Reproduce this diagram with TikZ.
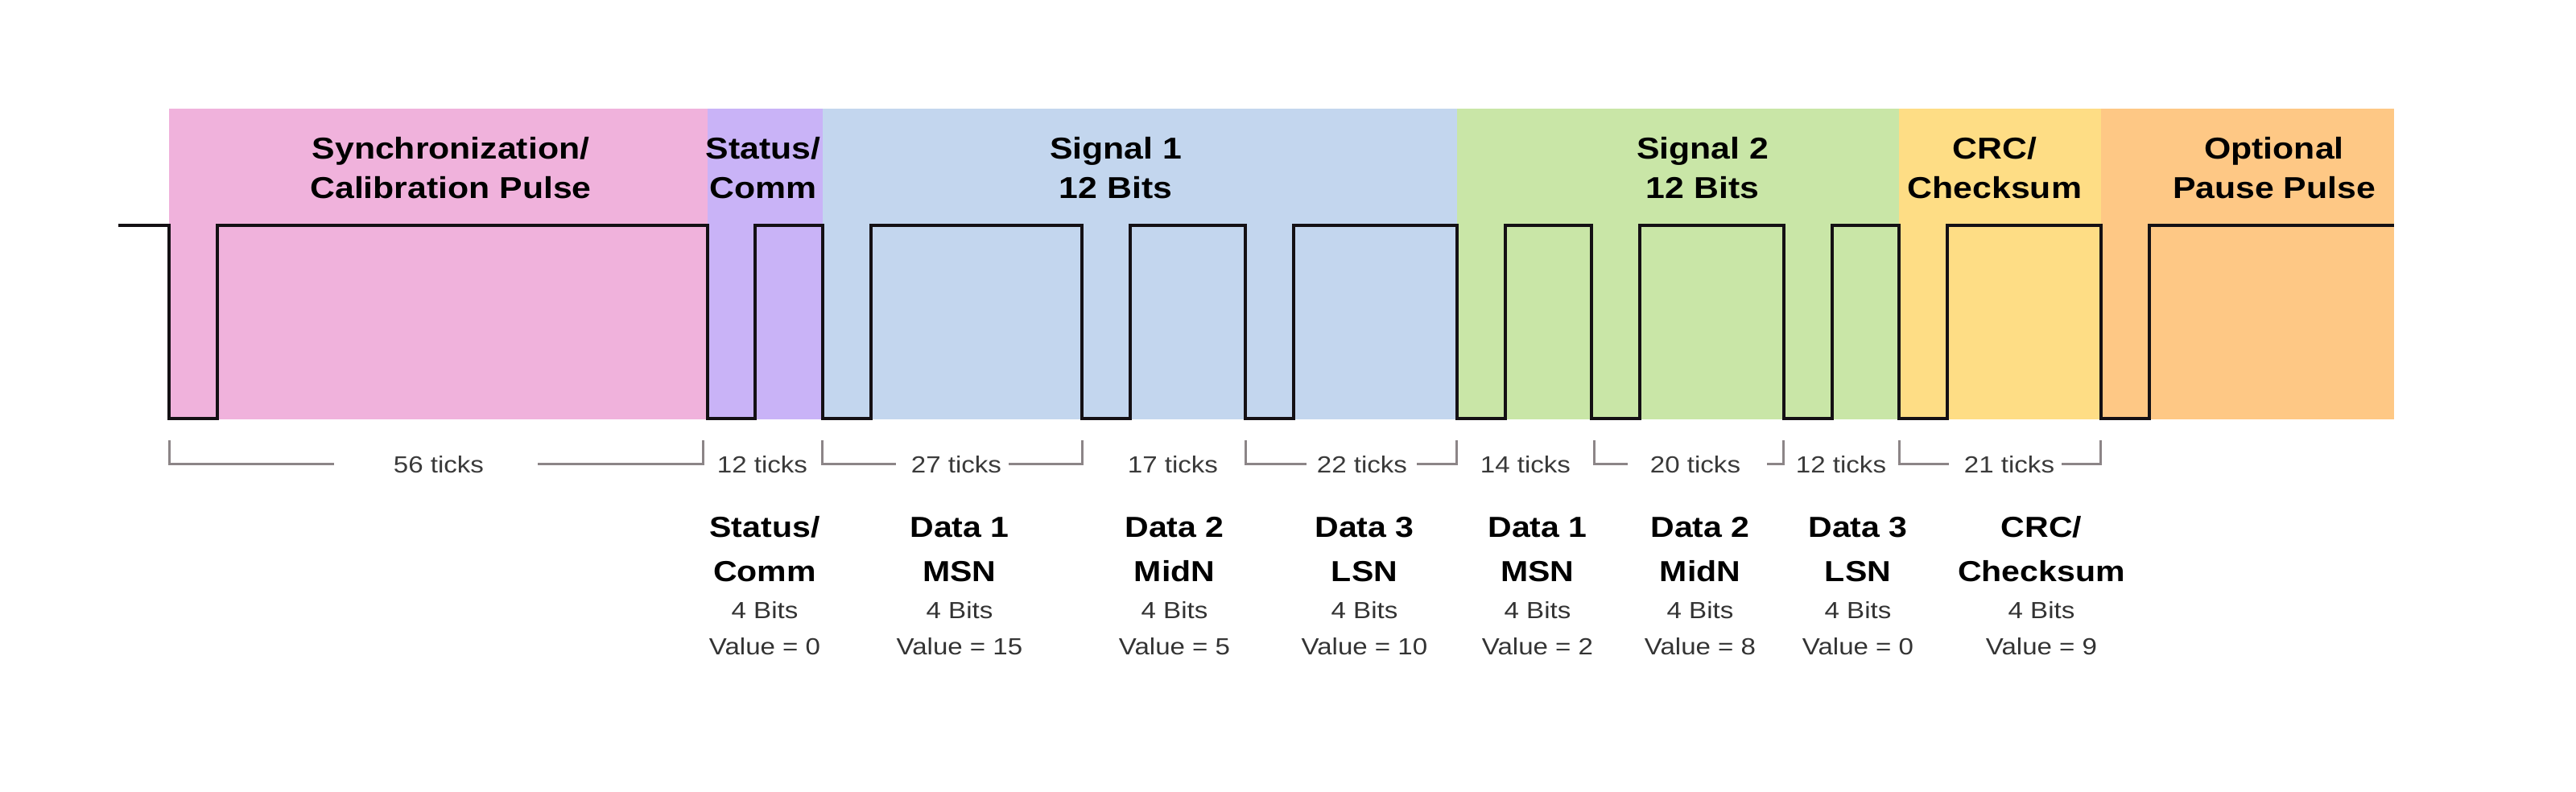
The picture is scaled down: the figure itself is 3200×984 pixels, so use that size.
\documentclass[tikz,border=0pt]{standalone}
\usepackage{fontspec}
\setmainfont{Liberation Sans}[FakeStretch=1.14]
\usetikzlibrary{calc}
\definecolor{cpink}{HTML}{F0B2DC}
\definecolor{cpurple}{HTML}{C9B3F7}
\definecolor{cblue}{HTML}{C3D6EE}
\definecolor{cgreen}{HTML}{C9E6A7}
\definecolor{cyellow}{HTML}{FEDD85}
\definecolor{corange}{HTML}{FEC885}
\definecolor{sigcol}{HTML}{141014}
\definecolor{brkcol}{HTML}{8C8587}
\definecolor{tickcol}{HTML}{3A3A3A}
\definecolor{smallcol}{HTML}{333333}
\begin{document}
\begin{tikzpicture}[x=1pt,y=-1pt,
  title/.style={font=\fontsize{37.5}{45}\selectfont\bfseries, anchor=base, inner sep=0pt},
  field/.style={font=\fontsize{36}{43}\selectfont\bfseries, anchor=base, inner sep=0pt},
  small/.style={font=\fontsize{29}{34}\selectfont, text=smallcol, anchor=base, inner sep=0pt},
  ticklbl/.style={small, text=tickcol},
  sig/.style={line width=4pt, draw=sigcol, line join=miter},
  brk/.style={line width=3pt, draw=brkcol}]
\def\u{11.94}
\useasboundingbox (0,0) rectangle (3200,984);
\fill[white] (0,0) rectangle (3200,984);
% coloured segments
\fill[cpink]   (210,135) rectangle ({210+56*\u},521);
\fill[cpurple] ({210+56*\u},135) rectangle ({210+68*\u},521);
\fill[cblue]   ({210+68*\u},135) rectangle ({210+134*\u},521);
\fill[cgreen]  ({210+134*\u},135) rectangle ({210+180*\u},521);
\fill[cyellow] ({210+180*\u},135) rectangle ({210+201*\u},521);
\fill[corange] ({210+201*\u},135) rectangle (2974,521);
% titles
\node[title] (t1a) at (560,198) {Synchronization/};
\node[title] (t1b) at (560,247) {Calibration Pulse};
\node[title] (t2a) at (948,198) {Status/};
\node[title] (t2b) at (948,247) {Comm};
\node[title] (t3a) at (1386,198) {Signal 1};
\node[title] (t3b) at (1386,247) {12 Bits};
\node[title] (t4a) at (2115,198) {Signal 2};
\node[title] (t4b) at (2115,247) {12 Bits};
\node[title] (t5a) at (2478,198) {CRC/};
\node[title] (t5b) at (2478,247) {Checksum};
\node[title] (t6a) at (2825,198) {Optional};
\node[title] (t6b) at (2825,247) {Pause Pulse};
% waveform
\draw[sig] (147,280)
  \foreach \t in {0,56,68,95,112,134,148,168,180,201} {
    -- ({210+\t*\u},280) -- ({210+\t*\u},520) -- ({210+(\t+5)*\u},520) -- ({210+(\t+5)*\u},280)
  } -- (2974,280);
% tick labels
\node[ticklbl] (k1) at (545,587) {56 ticks};
\node[ticklbl] (k2) at (947,587) {12 ticks};
\node[ticklbl] (k3) at (1188,587) {27 ticks};
\node[ticklbl] (k4) at (1457,587) {17 ticks};
\node[ticklbl] (k5) at (1692,587) {22 ticks};
\node[ticklbl] (k6) at (1895,587) {14 ticks};
\node[ticklbl] (k7) at (2106,587) {20 ticks};
\node[ticklbl] (k8) at (2287,587) {12 ticks};
\node[ticklbl] (k9) at (2496,587) {21 ticks};
% brackets
\draw[brk] (210,547) |- ($(k1.west)+(-74,0)$);
\draw[brk] ($(k1.east)+(67,0)$) -| ({210+56*\u-5},547);
\draw[brk] ({210+68*\u},547) |- ($(k3.west)+(-19,0)$);
\draw[brk] ($(k3.east)+(9,0)$) -| ({210+95*\u},547);
\draw[brk] ({210+112*\u},547) |- ($(k5.west)+(-13,0)$);
\draw[brk] ($(k5.east)+(12,0)$) -| ({210+134*\u},547);
\draw[brk] (1980,547) |- ($(k7.west)+(-28,0)$);
\draw[brk] ($(k7.east)+(33,0)$) -| ({210+168*\u},547);
\draw[brk] ({210+180*\u},547) |- ($(k9.west)+(-19,0)$);
\draw[brk] ($(k9.east)+(9,0)$) -| ({210+201*\u},547);
% field descriptions
\foreach \x/\a/\b/\v [count=\i] in {950/{Status/}/Comm/0, 1192/Data 1/MSN/15, 1459/Data 2/MidN/5, 1695/Data 3/LSN/10, 1910/Data 1/MSN/2, 2112/Data 2/MidN/8, 2308/Data 3/LSN/0, 2536/{CRC/}/Checksum/9} {
  \node[field] (d\i-a) at (\x,667) {\a};
  \node[field] (d\i-b) at (\x,722) {\b};
  \node[small] (d\i-c) at (\x,768) {4 Bits};
  \node[small] (d\i-d) at (\x,813) {Value = \v};
}
\end{tikzpicture}
\end{document}
